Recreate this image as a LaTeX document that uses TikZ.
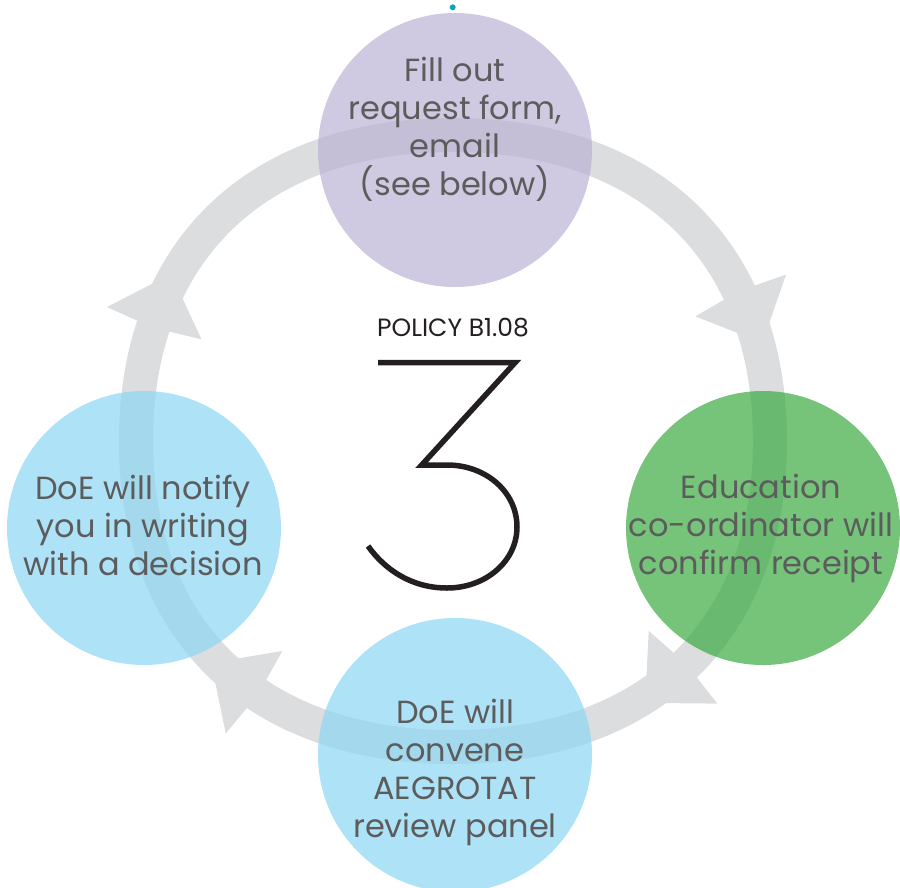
\documentclass[tikz,border=0pt]{standalone}
\usepackage{fontspec}
\setmainfont{Poppins}
\usetikzlibrary{decorations.markings}
\definecolor{ringgray}{RGB}{220,221,223}
\definecolor{purplefill}{RGB}{186,178,213}
\definecolor{bluefill}{RGB}{139,214,244}
\definecolor{greenfill}{RGB}{59,171,66}
\definecolor{textgray}{RGB}{92,92,92}
\definecolor{darkink}{RGB}{35,31,32}
\definecolor{tealdot}{RGB}{20,160,185}
\tikzset{
  stepcircle/.style={circle, minimum size=274pt, inner sep=0pt, fill opacity=0.7},
  steptext/.style={align=center, inner sep=0pt, text=textgray, font=\fontsize{32}{38}\selectfont},
  ringband/.style={draw=ringgray, line width=34pt},
  ringhead/.style={fill=ringgray},
  bignum/.style={draw=darkink, line width=5.5pt, line join=miter, line cap=butt},
}
\begin{document}
\begin{tikzpicture}[x=1pt, y=-1pt]
\useasboundingbox (0,0) rectangle (900,887);
% ring with arrowheads
\draw[ringband, postaction={decorate}, decoration={markings,
  mark=at position 0.175 with {\fill[ringhead] (-3,-17) -- (0,-50) -- (52,0) -- (0,50) -- (-3,17) -- cycle;},
  mark=at position 0.375 with {\fill[ringhead] (-3,-17) -- (0,-50) -- (52,0) -- (0,50) -- (-3,17) -- cycle;},
  mark=at position 0.605 with {\fill[ringhead] (-3,-17) -- (0,-50) -- (52,0) -- (0,50) -- (-3,17) -- cycle;},
  mark=at position 0.81 with {\fill[ringhead] (-3,-17) -- (0,-50) -- (52,0) -- (0,50) -- (-3,17) -- cycle;}}]
  (453,135) .. controls (649.5,135) and (770,251.3) .. (770,441)
  .. controls (770,630.7) and (649.5,747) .. (453,747)
  .. controls (256.5,747) and (136,630.7) .. (136,441)
  .. controls (136,251.3) and (256.5,135) .. (453,135) -- cycle;
% circles
\node[stepcircle, fill=purplefill] (c1) at (455,150) {};
\node[stepcircle, fill=greenfill] (c2) at (763,528) {};
\node[stepcircle, fill=bluefill] (c3) at (455,755) {};
\node[stepcircle, fill=bluefill] (c4) at (144,528) {};
% texts
\node[steptext] (t1) at (455,129) {Fill out\\request form,\\email\\(see below)};
\node[steptext] (t2) at (761,528) {Education\\co-ordinator will\\confirm receipt};
\node[steptext] (t3) at (455,772) {DoE will\\convene\\AEGROTAT\\review panel};
\node[steptext] (t4) at (143,525) {DoE will notify\\you in writing\\with a decision};
\node[inner sep=0pt, text=darkink, font=\fontsize{25}{30}\selectfont] (policy) at (453,328) {POLICY B1.08};
% large numeral
\draw[bignum] (378,362.7) -- (515,362.7) -- (421.7,465) -- (447,465)
  .. controls (486,465) and (517,492) .. (517,527)
  .. controls (517,561) and (486,588) .. (447,588)
  .. controls (412,588) and (385,570) .. (368,546);
% small dot
\fill[tealdot] (452.7,7.3) circle[radius=3pt];
\end{tikzpicture}
\end{document}
